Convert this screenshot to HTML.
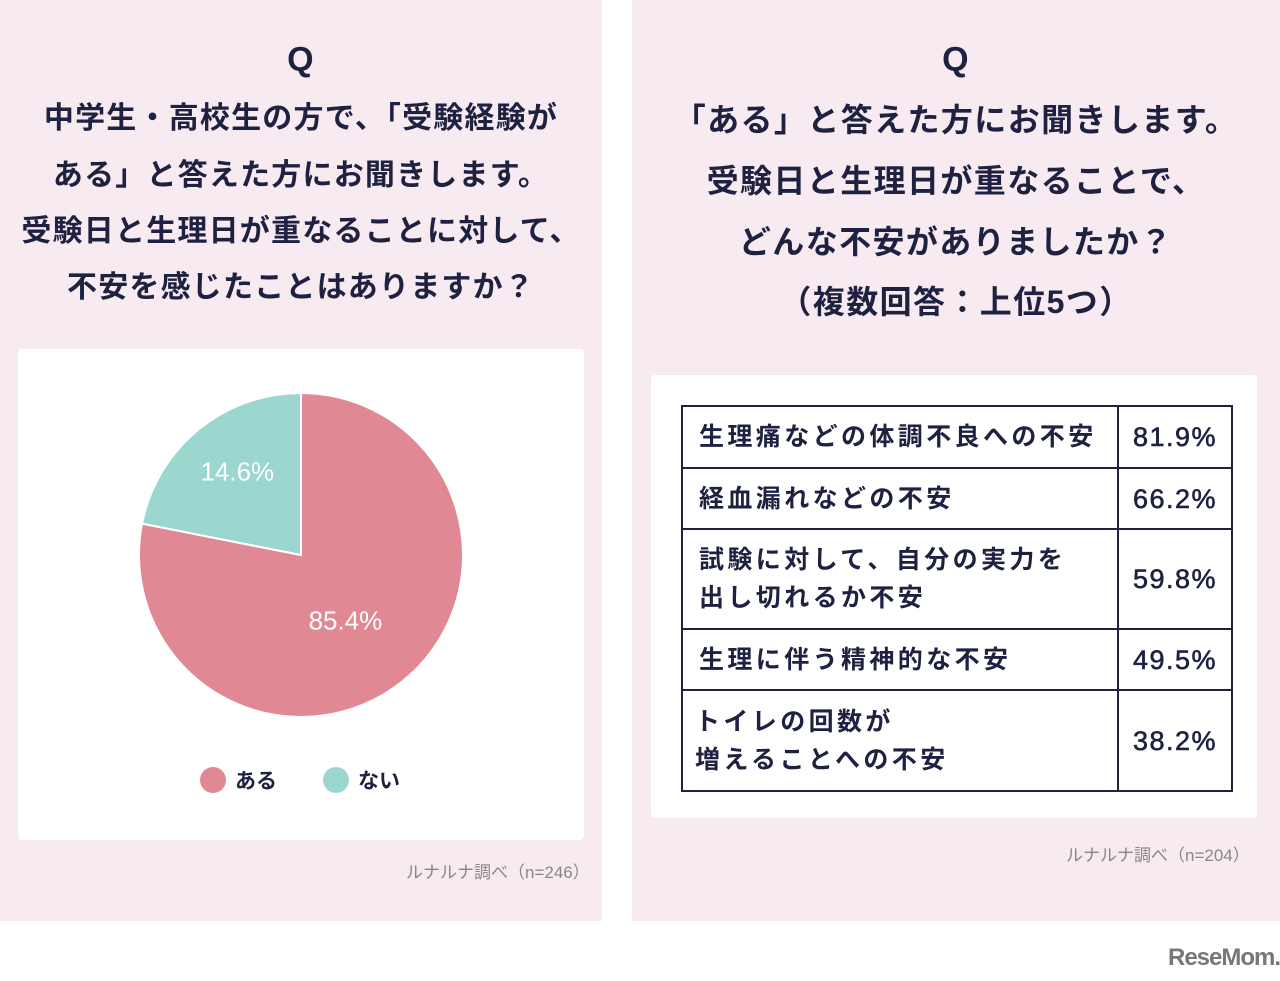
<!DOCTYPE html>
<html><head><meta charset="utf-8"><style>
body{margin:0;width:1280px;height:981px;background:#fff;position:relative;overflow:hidden;font-family:"Liberation Sans","Noto Sans CJK JP",sans-serif;color:#1e2240}
.abs{position:absolute}
.panel{position:absolute;background:#f7ebf1}
.card{position:absolute;background:#fff;border-radius:4px}
.t{position:absolute;left:0;width:100%;text-align:center;font-weight:bold;white-space:nowrap;transform:translateY(-50%)}
.l .t{letter-spacing:1.2px}
.r .t{letter-spacing:1.4px}
table{border-collapse:collapse;position:absolute;left:681px;top:405px;width:552px}
td{border:2.5px solid #1e2240;font-size:25px;font-weight:bold;padding:0 0 0 16px;letter-spacing:3.4px;line-height:38px}
td.v{text-align:center;padding:0;width:112px;font-size:27px;letter-spacing:1.5px;font-weight:normal;-webkit-text-stroke:0.6px #1e2240}
.src{position:absolute;font-size:17px;color:#888;white-space:nowrap}
</style></head><body>
<div class="panel l" style="left:0;top:0;width:602px;height:921px">
  <div class="t" style="top:60px;font-size:34px">Q</div>
  <div class="t" style="top:115px;font-size:30px">中学生・高校生の方で、「受験経験が</div>
  <div class="t" style="top:172px;font-size:30px">ある」と答えた方にお聞きします。</div>
  <div class="t" style="top:228px;font-size:30px">受験日と生理日が重なることに対して、</div>
  <div class="t" style="top:284px;font-size:30px">不安を感じたことはありますか？</div>
  <div class="card" style="left:18px;top:349px;width:566px;height:491px">
    <svg id="pie" width="566" height="491"></svg>
  </div>
  <div class="src" style="left:406px;top:858px">ルナルナ調べ（n=246）</div>
</div>
<div class="panel r" style="left:632px;top:0;width:648px;height:921px">
  <div class="t" style="top:60px;font-size:34px">Q</div>
  <div class="t" style="top:118px;font-size:32px">「ある」と答えた方にお聞きします。</div>
  <div class="t" style="top:179px;font-size:32px">受験日と生理日が重なることで、</div>
  <div class="t" style="top:240px;font-size:32px">どんな不安がありましたか？</div>
  <div class="t" style="top:300px;font-size:32px">（複数回答：上位5つ）</div>
  <div class="card" style="left:19px;top:375px;width:606px;height:443px"></div>
  <div class="src" style="left:434px;top:841px">ルナルナ調べ（n=204）</div>
</div>
<table>
<tr style="height:62px"><td>生理痛などの体調不良への不安</td><td class="v">81.9%</td></tr>
<tr style="height:61px"><td>経血漏れなどの不安</td><td class="v">66.2%</td></tr>
<tr style="height:100px"><td>試験に対して、自分の実力を<br>出し切れるか不安</td><td class="v">59.8%</td></tr>
<tr style="height:61px"><td>生理に伴う精神的な不安</td><td class="v">49.5%</td></tr>
<tr style="height:101px"><td style="padding-left:12px">トイレの回数が<br>増えることへの不安</td><td class="v">38.2%</td></tr>
</table>
<div class="abs" style="left:1168px;top:944px;font-size:24px;font-weight:bold;color:#777;letter-spacing:-1px">ReseMom.</div>
<script>
const categories=["ある","ない"];
const values=[78.1,21.9];
const valueLabels=["85.4%","14.6%"];
const colors=["#e08894","#9bd6cf"];
const svg=document.getElementById('pie');
const NS="http://www.w3.org/2000/svg";
const cx=283,cy=206,r=162;
const total=values.reduce((a,b)=>a+b,0);
function pt(frac,rad){const a=-Math.PI/2+frac*2*Math.PI;return [cx+rad*Math.cos(a),cy+rad*Math.sin(a)];}
let start=0;
values.forEach((v,i)=>{
  const end=start+v/total;
  const [x1,y1]=pt(start,r),[x2,y2]=pt(end,r);
  const large=(end-start)>0.5?1:0;
  const p=document.createElementNS(NS,'path');
  p.setAttribute('d',`M${cx},${cy}L${x1},${y1}A${r},${r} 0 ${large} 1 ${x2},${y2}Z`);
  p.setAttribute('fill',colors[i]);p.setAttribute('stroke','#fff');p.setAttribute('stroke-width','2');
  
  
  svg.appendChild(p);
  const mid=(start+end)/2;const lr=i==0?0.5*r:0.58*r;
  let [lx,ly]=pt(mid,lr);
  if(i==0){lx-=7;ly+=3;}else{lx-=4;ly-=11;}
  const t=document.createElementNS(NS,'text');
  t.setAttribute('x',lx);t.setAttribute('y',ly+9);t.setAttribute('text-anchor','middle');
  t.setAttribute('fill','#fff');t.setAttribute('font-size','26');t.setAttribute('font-family','Liberation Sans, sans-serif');
  t.textContent=valueLabels[i];
  
  
  svg.appendChild(t);
  start=end;
});
categories.forEach((c,i)=>{
  const x=195+i*123;
  const dot=document.createElementNS(NS,'circle');
  dot.setAttribute('cx',x);dot.setAttribute('cy',431);dot.setAttribute('r',13);dot.setAttribute('fill',colors[i]);
  
  
  svg.appendChild(dot);
  const t=document.createElementNS(NS,'text');
  t.setAttribute('x',x+22);t.setAttribute('y',439);t.setAttribute('fill','#1e2240');t.setAttribute('font-size','21');t.setAttribute('font-weight','bold');
  t.setAttribute('font-family','Liberation Sans, Noto Sans CJK JP, sans-serif');
  t.textContent=c;
  
  
  svg.appendChild(t);
});
</script>
</body></html>
